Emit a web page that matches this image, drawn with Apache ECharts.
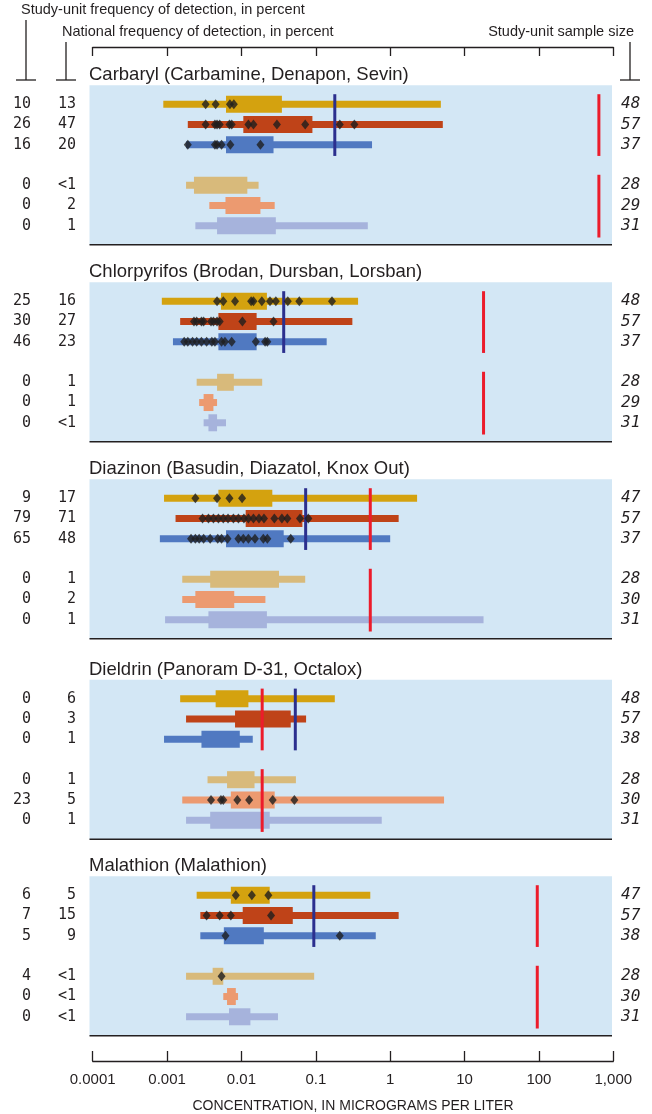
<!DOCTYPE html>
<html><head><meta charset="utf-8">
<script src="https://cdn.jsdelivr.net/npm/echarts@6/dist/echarts.min.js"></script>
<style>html,body{margin:0;padding:0;background:#fff}#c{width:652px;height:1114px}</style>
</head><body><div id="c"></div>
<script>
// ---------------- DATA ----------------
const pesticides = [
  'Carbaryl (Carbamine, Denapon, Sevin)',
  'Chlorpyrifos (Brodan, Dursban, Lorsban)',
  'Diazinon (Basudin, Diazatol, Knox Out)',
  'Dieldrin (Panoram D-31, Octalox)',
  'Malathion (Malathion)'
];
const tickLabels = ['0.0001','0.001','0.01','0.1','1','10','100','1,000'];
const axisTitle = 'CONCENTRATION, IN MICROGRAMS PER LITER';
// row slots: 0-2 upper group, 4-6 lower group (slot 3 empty)
const rowIndex = [0, 1, 2, 4, 5, 6];

const studyFreq = [
  ['10','26','16','0','0','0'],
  ['25','30','46','0','0','0'],
  ['9','79','65','0','0','0'],
  ['0','0','0','0','23','0'],
  ['6','7','5','4','0','0']
];
const nationalFreq = [
  ['13','47','20','<1','2','1'],
  ['16','27','23','1','1','<1'],
  ['17','71','48','1','2','1'],
  ['6','3','1','1','5','1'],
  ['5','15','9','<1','<1','<1']
];
const sampleSize = [
  ['48','57','37','28','29','31'],
  ['48','57','37','28','29','31'],
  ['47','57','37','28','30','31'],
  ['48','57','38','28','30','31'],
  ['47','57','38','28','30','31']
];

// full range [low, high] per row
const carbarylRange = [[0.00089,4.8],[0.0019,5.1],[0.0018,0.57],[0.0018,0.017],[0.0037,0.028],[0.0024,0.50]];
const chlorpyrifosRange = [[0.00085,0.37],[0.0015,0.31],[0.0012,0.14],[0.0025,0.019],[0.0027,0.0047],[0.0031,0.0062]];
const diazinonRange = [[0.00091,2.3],[0.0013,1.3],[0.00080,1.0],[0.0016,0.072],[0.0016,0.021],[0.00094,18]];
const dieldrinRange = [[0.0015,0.18],[0.0018,0.074],[0.00091,0.0142],[0.0035,0.054],[0.0016,5.3],[0.0018,0.77]];
const malathionRange = [[0.0025,0.54],[0.0028,1.3],[0.0028,0.64],[0.0018,0.095],[0.0057,0.0090],[0.0018,0.031]];

// central range [low, high] per row
const carbarylBox = [[0.0062,0.035],[0.0106,0.090],[0.0062,0.027],[0.0023,0.012],[0.0061,0.018],[0.0047,0.029]];
const chlorpyrifosBox = [[0.0053,0.022],[0.0049,0.016],[0.0049,0.016],[0.0047,0.0079],[0.0031,0.0042],[0.0036,0.0047]];
const diazinonBox = [[0.0049,0.026],[0.0114,0.066],[0.0062,0.037],[0.0038,0.032],[0.0024,0.0080],[0.0036,0.022]];
const dieldrinBox = [[0.0045,0.0124],[0.0082,0.046],[0.0029,0.0095],[0.0064,0.015],[0.0072,0.028],[0.0038,0.024]];
const malathionBox = [[0.0072,0.024],[0.0104,0.049],[0.0058,0.020],[0.0041,0.0057],[0.0064,0.0084],[0.0068,0.0132]];

// individual detections per row
const carbarylDetects = [
  [0.0033,0.0045,0.0070,0.0079],
  [0.0033,0.0044,0.0047,0.0051,0.0069,0.0074,0.0124,0.0145,0.030,0.072,0.21,0.33],
  [0.0019,0.0044,0.0047,0.0054,0.0071,0.018],
  [],[],[]
];
const chlorpyrifosDetects = [
  [0.0047,0.0057,0.0082,0.0135,0.0145,0.0188,0.0242,0.029,0.042,0.060,0.165],
  [0.0023,0.0025,0.0029,0.0031,0.0039,0.0042,0.0047,0.0051,0.0103,0.027],
  [0.0017,0.0019,0.0022,0.0025,0.0029,0.0034,0.0040,0.0044,0.0054,0.0060,0.0074,0.0156,0.0208,0.0223],
  [],[],[]
];
const diazinonDetects = [
  [0.0024,0.0047,0.0069,0.0102],
  [0.0030,0.0036,0.0042,0.0049,0.0057,0.0066,0.0078,0.0091,0.0108,0.0124,0.0145,0.0172,0.0201,0.0277,0.035,0.0414,0.0613,0.0793],
  [0.0021,0.0024,0.0027,0.0031,0.0038,0.0048,0.0054,0.0065,0.0091,0.0106,0.0124,0.0152,0.0197,0.0223,0.046],
  [],[],[]
];
const dieldrinDetects = [[],[],[],[],[0.0039,0.0053,0.0057,0.0088,0.0127,0.0263,0.0515],[]];
const malathionDetects = [[0.0084,0.0138,0.023],[0.0034,0.0051,0.0072,0.025],[0.0061,0.21],[0.0054],[],[]];

// benchmark lines
const aquaticLimit = [0.18, 0.037, 0.073, 0.053, 0.094];
const humanLimit = [640, 18, 0.54, 0.019, 95];

const ranges = [carbarylRange, chlorpyrifosRange, diazinonRange, dieldrinRange, malathionRange];
const boxes = [carbarylBox, chlorpyrifosBox, diazinonBox, dieldrinBox, malathionBox];
const detects = [carbarylDetects, chlorpyrifosDetects, diazinonDetects, dieldrinDetects, malathionDetects];

// ---------------- STYLE / LAYOUT ----------------
const rowColors = ['#d4a20f','#bf4318','#5079c1','#d8ba7b','#ec9a70','#a6b3dc'];
const ink = '#231f20';
const panelTop = [85.3, 282.3, 479.3, 679.7, 876.3];
const panelH = 159.5;
const gL = 92.7, gR = 38.7;
const textFont = '"Liberation Sans", Arial, sans-serif';
const monoFont = '"DejaVu Sans Mono", monospace';

const grid = [], xAxis = [], yAxis = [], series = [], graphic = [];

panelTop.forEach((t, p) => {
  grid.push({left: gL, right: gR, top: t, height: panelH});
  xAxis.push({type:'log', logBase:10, min:0.0001, max:1000, gridIndex:p, show:false});
  yAxis.push({type:'value', min:-0.94, max:6.94, inverse:true, gridIndex:p, show:false});

  graphic.push({type:'rect', z:0, shape:{x:89.5, y:t, width:522.5, height:panelH}, style:{fill:'#d3e7f5'}});
  graphic.push({type:'line', z:0, shape:{x1:89.5, y1:t+panelH, x2:612, y2:t+panelH}, style:{stroke:ink, lineWidth:1.5}});
  graphic.push({type:'text', z:1, x:89, y:t-10, style:{text:pesticides[p], fontSize:18.5, fontFamily:textFont, fill:ink, verticalAlign:'middle'}});

  const barRender = (h) => (params, api) => {
    const a = api.coord([api.value(0), api.value(2)]);
    const b = api.coord([api.value(1), api.value(2)]);
    return {type:'rect', shape:{x:a[0], y:a[1]-h/2, width:b[0]-a[0], height:h},
            style:{fill: rowColors[params.dataIndex]}};
  };
  series.push({
    type:'custom', xAxisIndex:p, yAxisIndex:p, z:2,
    encode:{x:[0,1], y:2},
    data: ranges[p].map((r,k) => [r[0], r[1], rowIndex[k]]),
    renderItem: barRender(7)
  });
  series.push({
    type:'custom', xAxisIndex:p, yAxisIndex:p, z:3,
    encode:{x:[0,1], y:2},
    data: boxes[p].map((r,k) => [r[0], r[1], rowIndex[k]]),
    renderItem: barRender(17)
  });
  // benchmark lines
  const lines = [
    [aquaticLimit[p], -0.5, 2.55, 0],
    [humanLimit[p], -0.5, 2.55, 1],
    [humanLimit[p], 3.48, 6.58, 1]
  ];
  series.push({
    type:'custom', xAxisIndex:p, yAxisIndex:p, z:4,
    encode:{x:0, y:[1,2]},
    data: lines,
    renderItem: (params, api) => {
      const a = api.coord([api.value(0), api.value(1)]);
      const b = api.coord([api.value(0), api.value(2)]);
      return {type:'rect', shape:{x:a[0]-1.5, y:a[1], width:3, height:b[1]-a[1]},
              style:{fill: api.value(3) === 0 ? '#2b2f8e' : '#ec1c2b'}};
    }
  });
  const pts = [];
  detects[p].forEach((arr, k) => arr.forEach(v => pts.push([v, rowIndex[k]])));
  series.push({
    type:'scatter', xAxisIndex:p, yAxisIndex:p, z:5,
    symbol:'diamond', symbolSize:[8,10],
    itemStyle:{color:'#1e1e1e'},
    data: pts
  });
  // row labels
  series.push({
    type:'custom', xAxisIndex:p, yAxisIndex:p, z:5,
    encode:{x:0, y:1},
    data: rowIndex.map(r => [1, r]),
    renderItem: (params, api) => {
      const k = params.dataIndex;
      const y = api.coord([1, api.value(1)])[1];
      return {type:'group', children:[
        {type:'text', x:31, y:y, style:{text:studyFreq[p][k], align:'right', verticalAlign:'middle', fontSize:15, fontFamily:monoFont, fill:ink}},
        {type:'text', x:76, y:y, style:{text:nationalFreq[p][k], align:'right', verticalAlign:'middle', fontSize:15, fontFamily:monoFont, fill:ink}},
        {type:'text', x:621, y:y, style:{text:sampleSize[p][k], align:'left', verticalAlign:'middle', fontSize:16, fontStyle:'italic', fontFamily:monoFont, fill:ink}}
      ]};
    }
  });
});

// top ruler
grid.push({left: gL, right: gR, top: 47, height: 10});
xAxis.push({type:'log', logBase:10, min:0.0001, max:1000, gridIndex:5, position:'top',
  axisLine:{show:true, onZero:false, lineStyle:{color:ink, width:1.3}},
  axisTick:{show:true, inside:true, length:9, lineStyle:{color:ink, width:1.3}},
  axisLabel:{show:false}, splitLine:{show:false}});
yAxis.push({type:'value', gridIndex:5, show:false});

// bottom axis
grid.push({left: gL, right: gR, top: 1052, height: 10});
xAxis.push({type:'log', logBase:10, min:0.0001, max:1000, gridIndex:6, position:'bottom',
  axisLine:{show:true, onZero:false, lineStyle:{color:ink, width:1.3}},
  axisTick:{show:true, inside:true, length:10, lineStyle:{color:ink, width:1.3}},
  axisLabel:{show:true, margin:11, fontSize:15, fontFamily:textFont, color:ink,
    formatter: v => tickLabels[Math.round(Math.log10(v)) + 4]},
  splitLine:{show:false},
  name: axisTitle, nameLocation:'middle', nameGap:38,
  nameTextStyle:{fontSize:14, fontFamily:textFont, color:ink}});
yAxis.push({type:'value', gridIndex:6, show:false});

// header texts and brackets
graphic.push({type:'text', x:21, y:10, style:{text:'Study-unit frequency of detection, in percent', fontSize:14.5, fontFamily:textFont, fill:ink, verticalAlign:'middle'}});
graphic.push({type:'text', x:62, y:32, style:{text:'National frequency of detection, in percent', fontSize:14.5, fontFamily:textFont, fill:ink, verticalAlign:'middle'}});
graphic.push({type:'text', x:634, y:32, style:{text:'Study-unit sample size', fontSize:14.5, fontFamily:textFont, fill:ink, align:'right', verticalAlign:'middle'}});
[[26,20],[66,42],[630,42]].forEach(([x, y0]) => {
  graphic.push({type:'line', shape:{x1:x, y1:y0, x2:x, y2:80}, style:{stroke:ink, lineWidth:1.3}});
  graphic.push({type:'line', shape:{x1:x-10, y1:80, x2:x+10, y2:80}, style:{stroke:ink, lineWidth:1.3}});
});

const chart = echarts.init(document.getElementById('c'));
chart.setOption({animation:false, grid, xAxis, yAxis, series, graphic});
</script>
</body></html>
